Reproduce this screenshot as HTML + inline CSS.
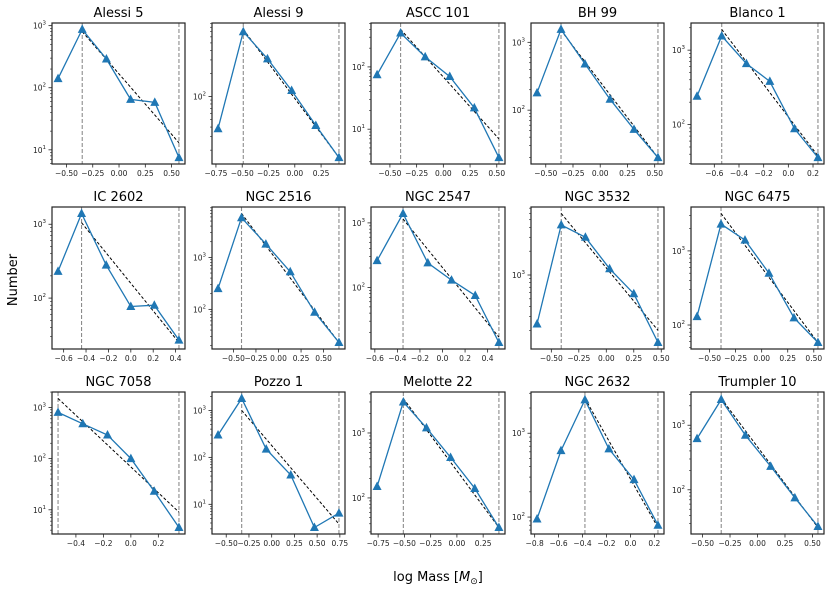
<!DOCTYPE html>
<html><head><meta charset="utf-8">
<style>
html,body{margin:0;padding:0;background:#fff;}
svg{display:block;font-family:"DejaVu Sans","Liberation Sans",sans-serif;}
</style></head>
<body>
<svg id="fig" width="831" height="591" viewBox="0 0 831 591" xmlns="http://www.w3.org/2000/svg">
<text x="0" y="0" transform="translate(17,280) rotate(-90)" text-anchor="middle" font-size="13">Number</text>
<text x="438" y="581" text-anchor="middle" font-size="13">log Mass [<tspan font-style="italic">M</tspan><tspan font-size="9" dy="3">⊙</tspan><tspan dy="-3">]</tspan></text>
</svg>
<script>
const titles = ["Alessi 5","Alessi 9","ASCC 101","BH 99","Blanco 1","IC 2602","NGC 2516","NGC 2547","NGC 3532","NGC 6475","NGC 7058","Pozzo 1","Melotte 22","NGC 2632","Trumpler 10"];
const massX = [
 [-0.58,-0.35,-0.12,0.11,0.34,0.57],
 [-0.73,-0.49,-0.26,-0.03,0.20,0.42],
 [-0.62,-0.40,-0.17,0.06,0.29,0.52],
 [-0.58,-0.36,-0.14,0.09,0.31,0.53],
 [-0.74,-0.54,-0.34,-0.15,0.05,0.24],
 [-0.65,-0.44,-0.22,0.00,0.21,0.43],
 [-0.67,-0.41,-0.14,0.13,0.40,0.67],
 [-0.58,-0.35,-0.13,0.08,0.29,0.50],
 [-0.63,-0.41,-0.19,0.03,0.25,0.47],
 [-0.62,-0.39,-0.16,0.07,0.31,0.54],
 [-0.53,-0.35,-0.17,0.00,0.17,0.35],
 [-0.59,-0.33,-0.06,0.21,0.47,0.74],
 [-0.76,-0.51,-0.29,-0.06,0.17,0.40],
 [-0.78,-0.58,-0.38,-0.18,0.03,0.23],
 [-0.55,-0.33,-0.11,0.12,0.34,0.55]
];
const counts = [
 [140,870,290,65,58,7.5],
 [38,700,310,120,42,16],
 [75,350,145,70,22,3.5],
 [180,1550,480,145,52,20],
 [240,1550,660,380,88,36],
 [230,1400,280,77,80,27],
 [250,5800,1800,530,88,23],
 [260,1400,240,130,75,14],
 [240,4300,3000,1200,580,140],
 [130,2300,1400,500,125,58],
 [800,480,290,100,23,4.5],
 [300,1800,150,42,3.2,6.5],
 [150,3000,1200,420,140,35],
 [95,620,2500,650,280,80],
 [620,2500,700,230,75,27]
];
const fitStart = [800,750,400,1500,1900,1050,7000,1150,6000,3200,1500,1000,3400,2600,2600];
const fitEnd = [13,16,7,20,38,25,23,17,200,58,9,3.8,35,75,26];
const cutLow = [-0.35,-0.49,-0.40,-0.36,-0.54,-0.44,-0.41,-0.35,-0.41,-0.39,-0.53,-0.33,-0.51,-0.38,-0.33];
const cutHigh = [0.57,0.42,0.52,0.53,0.24,0.43,0.67,0.50,0.47,0.54,0.35,0.74,0.40,0.23,0.55];
const xTicks = [
 [-0.5,-0.25,0,0.25,0.5],
 [-0.75,-0.5,-0.25,0,0.25],
 [-0.5,-0.25,0,0.25,0.5],
 [-0.5,-0.25,0,0.25,0.5],
 [-0.6,-0.4,-0.2,0,0.2],
 [-0.6,-0.4,-0.2,0,0.2,0.4],
 [-0.5,-0.25,0,0.25,0.5],
 [-0.6,-0.4,-0.2,0,0.2,0.4],
 [-0.5,-0.25,0,0.25,0.5],
 [-0.5,-0.25,0,0.25,0.5],
 [-0.4,-0.2,0,0.2],
 [-0.5,-0.25,0,0.25,0.5,0.75],
 [-0.75,-0.5,-0.25,0,0.25],
 [-0.8,-0.6,-0.4,-0.2,0,0.2],
 [-0.5,-0.25,0,0.25,0.5]
];
const xTickLabels = [
 ["−0.50","−0.25","0.00","0.25","0.50"],
 ["−0.75","−0.50","−0.25","0.00","0.25"],
 ["−0.50","−0.25","0.00","0.25","0.50"],
 ["−0.50","−0.25","0.00","0.25","0.50"],
 ["−0.6","−0.4","−0.2","0.0","0.2"],
 ["−0.6","−0.4","−0.2","0.0","0.2","0.4"],
 ["−0.50","−0.25","0.00","0.25","0.50"],
 ["−0.6","−0.4","−0.2","0.0","0.2","0.4"],
 ["−0.50","−0.25","0.00","0.25","0.50"],
 ["−0.50","−0.25","0.00","0.25","0.50"],
 ["−0.4","−0.2","0.0","0.2"],
 ["−0.50","−0.25","0.00","0.25","0.50","0.75"],
 ["−0.75","−0.50","−0.25","0.00","0.25"],
 ["−0.8","−0.6","−0.4","−0.2","0.0","0.2"],
 ["−0.50","−0.25","0.00","0.25","0.50"]
];

const NS = "http://www.w3.org/2000/svg";
const fig = document.getElementById('fig');
const colL = [52,212,371,531,691], colR = [185,345,505,664,824];
const rowT = [23,207,392], rowB = [164,349,534];
function mk(tag, attrs, parent){
  const e = document.createElementNS(NS, tag);
  for (const k in attrs) e.setAttribute(k, attrs[k]);
  (parent||fig).appendChild(e);
  return e;
}
for (let p = 0; p < titles.length; p++) {
  const c = p % 5, r = Math.floor(p / 5);
  const L = colL[c], R = colR[c], T = rowT[r], B = rowB[r];
  const g = mk('g', {});
  
  
  const xs = massX[p], ys = counts[p];
  let xmin = Math.min(...xs, cutLow[p]), xmax = Math.max(...xs, cutHigh[p]);
  const dx = (xmax - xmin) * 0.05; xmin -= dx; xmax += dx;
  const ly = ys.concat([fitStart[p], fitEnd[p]]).map(Math.log10);
  let ymin = Math.min(...ly), ymax = Math.max(...ly);
  const dy = (ymax - ymin) * 0.05; ymin -= dy; ymax += dy;
  const sx = v => L + (v - xmin) / (xmax - xmin) * (R - L);
  const sy = v => B - (Math.log10(v) - ymin) / (ymax - ymin) * (B - T);

  const clip = mk('clipPath', {id: 'clip' + p}, g);
  mk('rect', {x: L, y: T, width: R - L, height: B - T}, clip);
  const plot = mk('g', {'clip-path': 'url(#clip' + p + ')'}, g);

  const t = mk('text', {x: (L + R) / 2, y: T - 6, 'text-anchor': 'middle', 'font-size': 13}, g);
  
  
  t.textContent = titles[p];

  [cutLow[p], cutHigh[p]].forEach(v => {
    const l = mk('line', {x1: sx(v), x2: sx(v), y1: T, y2: B, stroke: '#8c8c8c', 'stroke-width': 1.1, 'stroke-dasharray': '4,2'}, plot);
    
    
  });
  const f = mk('line', {x1: sx(cutLow[p]), y1: sy(fitStart[p]), x2: sx(cutHigh[p]), y2: sy(fitEnd[p]), stroke: '#000', 'stroke-width': 1, 'stroke-dasharray': '3,2'}, plot);
  
  
  const pts = xs.map((v, i) => sx(v).toFixed(1) + ',' + sy(ys[i]).toFixed(1)).join(' ');
  const pl = mk('polyline', {points: pts, fill: 'none', stroke: '#1f77b4', 'stroke-width': 1.3}, plot);
  
  
  xs.forEach((v, i) => {
    const X = sx(v), Y = sy(ys[i]);
    const m = mk('polygon', {points: `${X},${Y-5} ${X-4.5},${Y+3.5} ${X+4.5},${Y+3.5}`, fill: '#1f77b4'}, g);
    
    
  });
  const fr = mk('rect', {x: L, y: T, width: R - L, height: B - T, fill: 'none', stroke: '#222', 'stroke-width': 1.2}, g);
  
  
  xTicks[p].forEach((v, i) => {
    const X = sx(v);
    if (X < L - 0.5 || X > R + 0.5) return;
    mk('line', {x1: X, x2: X, y1: B, y2: B + 3.5, stroke: '#222', 'stroke-width': 0.8}, g);
    const tl = mk('text', {x: X, y: B + 12, 'text-anchor': 'middle', 'font-size': 7.5, fill: '#222'}, g);
    
    
    tl.textContent = xTickLabels[p][i];
  });
  for (let d = Math.floor(ymin); d <= Math.ceil(ymax); d++) {
    for (let k = 1; k <= 9; k++) {
      const lv = d + Math.log10(k);
      if (lv < ymin || lv > ymax) continue;
      const Y = sy(Math.pow(10, lv));
      mk('line', {x1: L - (k === 1 ? 3.5 : 2), x2: L, y1: Y, y2: Y, stroke: '#222', 'stroke-width': k === 1 ? 0.8 : 0.6}, g);
      if (k === 1) {
        const yl = mk('text', {x: L - 6, y: Y + 3, 'text-anchor': 'end', 'font-size': 7.5, fill: '#222'}, g);
        
        
        yl.textContent = '10';
        const sup = mk('tspan', {dy: -4, 'font-size': 5.5}, yl);
        sup.textContent = String(d);
      }
    }
  }
}
</script>
</body></html>
